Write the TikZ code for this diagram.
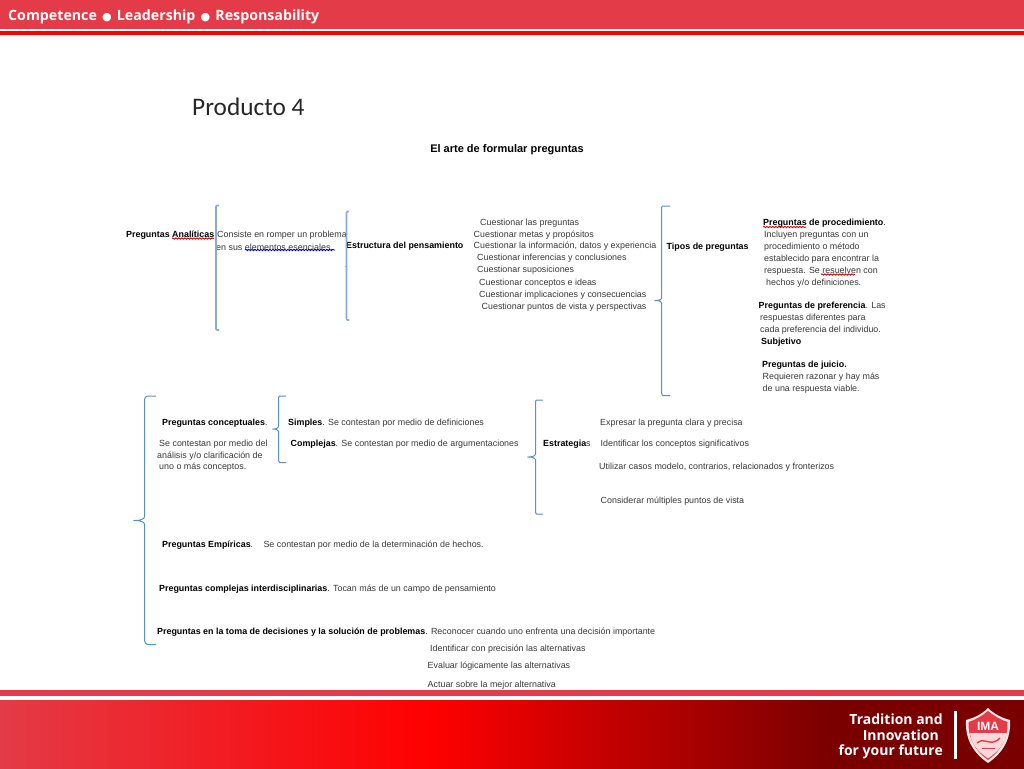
\documentclass[tikz,border=0pt]{standalone}
\usepackage{fontspec}
\setmainfont{Liberation Sans}
\newfontfamily\slidefont{Open Sans}
\newfontfamily\titlefont{Carlito}
\newfontfamily\dotfont{DejaVu Sans}
\usetikzlibrary{arrows.meta,positioning,calc,decorations.pathmorphing}
\definecolor{imared}{HTML}{E33B47}
\definecolor{imapure}{HTML}{FF0000}
\definecolor{imadark}{HTML}{7A0000}
\definecolor{bracecol}{HTML}{5B8FC7}
\definecolor{bracepale}{HTML}{8FAAD0}
\definecolor{bodygray}{HTML}{3A3A3A}
\tikzset{
  body/.style={anchor=west,inner sep=0pt,font=\fontsize{8.9}{11}\selectfont,text=bodygray},
  head/.style={body,text=black,font=\fontsize{8.9}{11}\selectfont\bfseries},
  slide/.style={anchor=west,inner sep=0pt,text=white,font=\fontsize{14.2}{17}\selectfont\slidefont\bfseries},
  future/.style={slide,anchor=east,font=\fontsize{14}{17}\selectfont\slidefont\bfseries},
  bracket/.style={draw=bracecol,line width=1pt,rounded corners=2.5pt},
  palebracket/.style={draw=bracepale,line width=1.6pt,rounded corners=1pt},
  wavyred/.style={draw=red!80!black,line width=.8pt,decorate,decoration={snake,amplitude=.7pt,segment length=3pt}},
  wavyblue/.style={draw=blue!75!black,line width=.8pt,decorate,decoration={snake,amplitude=.7pt,segment length=3pt}}
}
\newcommand{\motdot}{\hspace{5.2pt}{\dotfont\fontsize{11}{12}\selectfont ●}\hspace{5.2pt}}
\begin{document}
\begin{tikzpicture}[x=1pt,y=-1pt]
\useasboundingbox (0,0) rectangle (1024,768);
\fill[white] (0,0) rectangle (1024,768);
% top band
\fill[imared] (0,0) rectangle (1024,29);
\fill[imapure] (0,31) rectangle (1024,35);
\node[slide] (motto) at (8,17) {Competence\motdot Leadership\motdot Responsability};
% bottom band
\fill[imared] (0,690) rectangle (1024,696);
\fill[left color=imared,right color=imapure] (0,700) rectangle (430,772);
\fill[left color=imapure,right color=imadark] (430,700) rectangle (830,772);
\fill[imadark] (830,700) rectangle (1024,772);
\node[future] (tradition) at (943,719) {Tradition and};
\node[future] (innovation) at (939,735) {Innovation};
\node[future] (future) at (943,752) {for your future};
\fill[white] (954,711) rectangle (957,759);
% shield
\fill[white!90!red] (988,708) .. controls (994,714) and (1002,718) .. (1010,720) .. controls (1011,738) and (1004,752) .. (988,763) .. controls (972,752) and (965,738) .. (966,720) .. controls (974,718) and (982,714) .. (988,708) -- cycle;
\fill[imared] (988,711) .. controls (994,716) and (1001,720) .. (1007.5,722) .. controls (1008,737) and (1002,750) .. (988,760) .. controls (974,750) and (968,737) .. (968.5,722) .. controls (975,720) and (982,716) .. (988,711) -- cycle;
\fill[white!85!red] (970,733) -- (1006.5,733) .. controls (1005,743) and (999,751) .. (988,758.5) .. controls (977,751) and (971,743) .. (970,733) -- cycle;
\node[inner sep=0pt,text=white,font=\fontsize{12}{12}\selectfont\bfseries] (ima) at (988,726) {IMA};
\draw[imared,line width=1.4pt] (977,743) .. controls (985,736) and (990,748) .. (1000,738);
\draw[imared,line width=1pt] (982,748) -- (995,748);
% titles
\node[anchor=west,inner sep=0pt,font=\fontsize{25.3}{28}\selectfont\titlefont,text=black!85] (producto) at (192,107) {Producto 4};
\node[head,anchor=center,font=\fontsize{11}{13}\selectfont\bfseries] (arte) at (507,150) {El arte de formular preguntas};
% first row
\node[head] (analiticas) at (126,235) {Preguntas Analíticas};
\node[body] (consiste) at (217,235) {Consiste en romper un problema};
\node[body] (sus) at (216,247) {en sus elementos  esenciales.};
\draw[wavyred] (172,238.5) -- (214,238.5);
\draw[wavyblue] (245,250) -- (335,250);
\draw[palebracket] (219,205.5) -- (216,205.5) -- (216,330) -- (219,330);
\draw[palebracket,line width=.5pt] (216,268) -- (214.5,268);
\node[head] (estructura) at (346,246) {Estructura del pensamiento};
\draw[palebracket] (349,211.5) -- (346.5,211.5) -- (346.5,320) -- (349,320);
\draw[palebracket,line width=.5pt] (346.5,266) -- (344.5,266);
\node[body] (q1) at (480,223.5) {Cuestionar las preguntas};
\node[body] (q2) at (473.5,235) {Cuestionar metas y propósitos};
\node[body] (q3) at (473.5,246.5) {Cuestionar la información, datos y experiencia};
\node[body] (q4) at (477,258.5) {Cuestionar inferencias y conclusiones};
\node[body] (q5) at (477,270.5) {Cuestionar suposiciones};
\node[body] (q6) at (479,283) {Cuestionar conceptos e ideas};
\node[body] (q7) at (479,295.5) {Cuestionar implicaciones y consecuencias};
\node[body] (q8) at (481.5,307) {Cuestionar puntos de vista y perspectivas};
\draw[bracket] (670,206) -- (665,206) .. controls (662,206) and (661.5,208) .. (661.5,211) -- (661.5,296) .. controls (661.5,299) and (660,300.5) .. (653,300.5) .. controls (660,300.5) and (661.5,302) .. (661.5,305) -- (661.5,390) .. controls (661.5,393) and (662,395.5) .. (665,395.5) -- (670,395.5);
\node[head] (tipos) at (666.5,247) {Tipos de preguntas};
\node[body] (proc) at (763,223.5) {{\color{black}\bfseries Preguntas de procedimiento}.};
\draw[wavyred] (763,227) -- (806,227);
\node[body] (proc2) at (764,235.5) {Incluyen preguntas con un};
\node[body] (proc3) at (764,247) {procedimiento o método};
\node[body] (proc4) at (764,259) {establecido para encontrar la};
\node[body] (proc5) at (764,271) {respuesta. Se resuelven con};
\node[body] (proc6) at (766,283.5) {hechos y/o definiciones.};
\draw[wavyred] (821,274.5) -- (855,274.5);
\node[body] (pref) at (758.5,306.5) {{\color{black}\bfseries Preguntas de preferencia}. Las};
\node[body] (pref2) at (760,318.5) {respuestas diferentes para};
\node[body] (pref3) at (760,330) {cada preferencia del individuo.};
\node[head] (subj) at (761,342) {Subjetivo};
\node[head] (juicio) at (762,365) {Preguntas de juicio.};
\node[body] (juicio2) at (762.5,377) {Requieren razonar y hay más};
\node[body] (juicio3) at (762.5,389) {de una respuesta viable.};
% second row
\draw[bracket] (156,396) -- (150,396) .. controls (146,396) and (144.5,398) .. (144.5,402) -- (144.5,514) .. controls (144.5,518) and (143,520.5) .. (132,520.5) .. controls (143,520.5) and (144.5,523) .. (144.5,527) -- (144.5,638) .. controls (144.5,642) and (146,644.5) .. (150,644.5) -- (156,644.5);
\node[body] (concep) at (162,423) {{\color{black}\bfseries Preguntas conceptuales}.};
\node[body] (concep2) at (159,444.5) {Se contestan por medio del};
\node[body] (concep3) at (157,456) {análisis y/o clarificación de};
\node[body] (concep4) at (159,467.5) {uno o más conceptos.};
\draw[bracket] (286,396) -- (282,396) .. controls (279.5,396) and (278.5,397.5) .. (278.5,400) -- (278.5,424) .. controls (278.5,427) and (277,429) .. (271,429) .. controls (277,429) and (278.5,431) .. (278.5,434) -- (278.5,458) .. controls (278.5,460.5) and (279.5,462.5) .. (282,462.5) -- (286,462.5);
\node[body] (simples) at (288,423) {{\color{black}\bfseries Simples}. Se contestan por medio de definiciones};
\node[body] (complejas) at (290.5,444) {{\color{black}\bfseries Complejas}. Se contestan por medio de argumentaciones};
\draw[bracket] (543,400) -- (539,400) .. controls (536.5,400) and (535.5,401.5) .. (535.5,404) -- (535.5,452) .. controls (535.5,455) and (534,457) .. (526,457) .. controls (534,457) and (535.5,459) .. (535.5,462) -- (535.5,510) .. controls (535.5,512.5) and (536.5,514) .. (539,514) -- (543,514);
\node[body] (estrategia) at (543,444) {{\color{black}\bfseries Estrategia}s};
\node[body] (e1) at (600,423) {Expresar la pregunta clara y precisa};
\node[body] (e2) at (600.5,444) {Identificar los conceptos significativos};
\node[body] (e3) at (599,467.5) {Utilizar casos modelo, contrarios, relacionados y fronterizos};
\node[body] (e4) at (600.5,501.5) {Considerar múltiples puntos de vista};
\node[body] (empiricas) at (162,545) {{\color{black}\bfseries Preguntas Empíricas}.\hspace{7pt} Se contestan por medio de la determinación de hechos.};
\node[body] (inter) at (159,589) {{\color{black}\bfseries Preguntas complejas interdisciplinarias}. Tocan más de un campo de pensamiento};
\node[body] (decis) at (157,632) {{\color{black}\bfseries Preguntas en la toma de decisiones y la solución de problemas}. Reconocer cuando uno enfrenta una decisión importante};
\node[body] (d1) at (430,649) {Identificar con precisión las alternativas};
\node[body] (d2) at (427.5,666.5) {Evaluar lógicamente las alternativas};
\node[body] (d3) at (427.5,685) {Actuar sobre la mejor alternativa};
\end{tikzpicture}
\end{document}
